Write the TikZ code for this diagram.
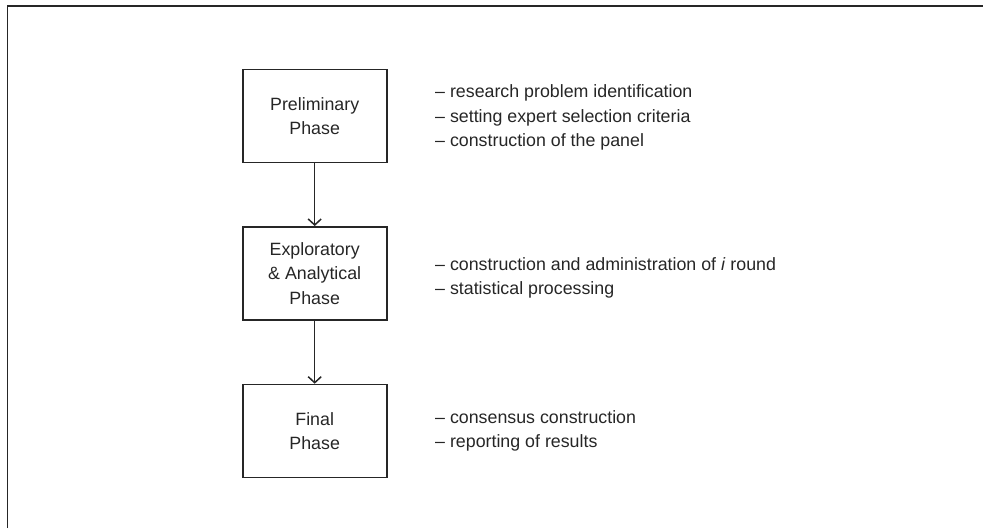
\documentclass[tikz,border=0pt]{standalone}
\usepackage{fontspec}
\setmainfont{Liberation Sans}
\usetikzlibrary{arrows.meta}
\definecolor{ink}{HTML}{262626}
\begin{document}
\begin{tikzpicture}[x=1pt,y=-1pt,
  phasebox/.style={draw=ink, line width=1.6pt, minimum width=144pt, minimum height=93pt,
    inner sep=0pt, align=center, text=ink, font=\fontsize{17.8}{24.5}\selectfont},
  notes/.style={anchor=west, inner sep=0pt, align=left, text=ink, font=\fontsize{17.8}{24.5}\selectfont},
  flow/.style={draw=ink, line width=1.5pt, -{Straight Barb[length=6pt,width=13pt,line width=1.5pt]}}]
\useasboundingbox (0,0) rectangle (983,528);
\draw[ink, line width=1.2pt] (7.3,528) -- (7.3,6) -- (983,6);
\node[phasebox] (p1) at (314.7,116) {Preliminary\\Phase};
\node[phasebox] (p2) at (314.7,273.3) {Exploratory\\\& Analytical\\Phase};
\node[phasebox] (p3) at (314.7,431) {Final\\Phase};
\draw[flow] (p1) -- (p2);
\draw[flow] (p2) -- (p3);
\node[notes] (n1) at (435,117.5) {– research problem identification\\– setting expert selection criteria\\– construction of the panel};
\node[notes] (n2) at (435,278) {– construction and administration of \textit{i} round\\– statistical processing};
\node[notes] (n3) at (435,431) {– consensus construction\\– reporting of results};
\end{tikzpicture}
\end{document}
